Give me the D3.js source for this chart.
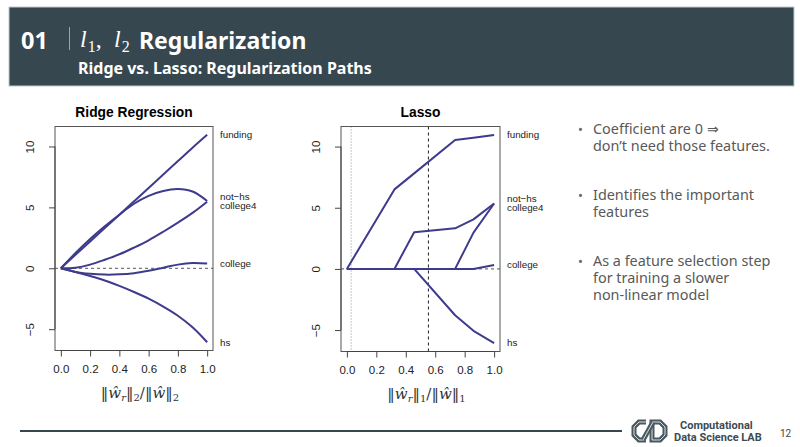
<!DOCTYPE html>
<html>
<head>
<meta charset="utf-8">
<script src="https://cdn.jsdelivr.net/npm/d3@7"></script>
<style>
  body { margin: 0; background: #fff; }
  svg { display: block; }
</style>
</head>
<body>
<div id="wrapper"></div>
<script>
// ridge paths on a common grid of ||w_r||2/||w||2
const ridgeX = [0, 0.1, 0.2, 0.3, 0.4, 0.5, 0.6, 0.7, 0.8, 0.9, 1.0]
const ridgeFunding  = [0, 1.1, 2.2, 3.3, 4.4, 5.5, 6.6, 7.7, 8.8, 9.9, 10.96]
const ridgeNotHs    = [0, 1.25, 2.4, 3.45, 4.4, 5.3, 5.95, 6.35, 6.5, 6.3, 5.52]
const ridgeCollege4 = [0, 0.05, 0.3, 0.7, 1.15, 1.7, 2.3, 3.0, 3.75, 4.55, 5.47]
const ridgeCollege  = [0, -0.3, -0.45, -0.52, -0.5, -0.4, -0.2, 0.05, 0.3, 0.43, 0.39]
const ridgeHs       = [0, -0.3, -0.63, -1.0, -1.45, -1.95, -2.5, -3.15, -3.9, -4.85, -6.07]

const lassoX = [0, 0.323, 0.457, 0.735, 0.86, 1.0]
const lassoFunding  = [0, 6.5, 7.81, 10.54, 10.73, 10.95]
const lassoNotHs    = [0, 0, 3.0, 3.32, 4.05, 5.35]
const lassoCollege4 = [0, 0, 0, 0, 2.97, 5.35]
const lassoCollege  = [0, 0, 0, 0, 0, 0.32]
const lassoHs       = [0, 0, 0, -3.79, -5.06, -6.06]
const lassoDotted = 0.029
const lassoDashed = 0.554

const featureNames = ["funding", "not\u2212hs", "college4", "college", "hs"]
const xTicks = [0, 0.2, 0.4, 0.6, 0.8, 1.0]
const yTicks = [-5, 0, 5, 10]
const yRange = [-6.07, 10.96]

const bullets = [
  ["Coefficient are 0 \u21D2", "don\u2019t need those features."],
  ["Identifies the important", "features"],
  ["As a feature selection step", "for training a slower", "non-linear model"],
]

const lineColor = "#3f3b8c"
const width = 800
const height = 447

const svg = d3.select("#wrapper")
  .append("svg")
  .attr("width", width)
  .attr("height", height)

// ---- header band
svg.append("rect")
  .attr("x", 9).attr("y", 7)
  .attr("width", 785).attr("height", 79)
  .attr("fill", "#36474f")
  .attr("stroke", "#c4c9cc")
  .attr("stroke-width", 1)

svg.append("text")
  .attr("x", 21).attr("y", 48.5)
  .attr("fill", "#fff")
  .style("font", "bold 23.5px 'Noto Sans', sans-serif")
  .text("01")

svg.append("line")
  .attr("x1", 69.5).attr("x2", 69.5)
  .attr("y1", 27).attr("y2", 50)
  .attr("stroke", "#9aa5aa")
  .attr("stroke-width", 1)

// l1, l2 in math italic
const lTitle = svg.append("text")
  .attr("y", 47)
  .attr("fill", "#fff")
  .style("font-family", "'Liberation Serif', 'DejaVu Serif', serif")
  .style("font-size", "24px")
lTitle.append("tspan").attr("x", 80).style("font-style", "italic").text("l")
lTitle.append("tspan").attr("dy", 5).attr("dx", 1).style("font-size", "16px").text("1")
lTitle.append("tspan").attr("dy", -5).text(",")
lTitle.append("tspan").attr("x", 114).style("font-style", "italic").text("l")
lTitle.append("tspan").attr("dy", 5).attr("dx", 1).style("font-size", "16px").text("2")

svg.append("text")
  .attr("x", 139).attr("y", 48.5)
  .attr("fill", "#fff")
  .style("font", "bold 23px 'Noto Sans', sans-serif")
  .text("Regularization")

svg.append("text")
  .attr("x", 78).attr("y", 74)
  .attr("fill", "#fff")
  .style("font", "bold 16px 'Noto Sans', sans-serif")
  .text("Ridge vs. Lasso: Regularization Paths")

// ---- one R style coefficient path panel
function drawPanel(cfg) {
  const pad = (yRange[1] - yRange[0]) * 0.04
  const x = d3.scaleLinear()
    .domain([-0.04, 1.04])
    .range([cfg.left, cfg.right])
  const y = d3.scaleLinear()
    .domain([yRange[0] - pad, yRange[1] + pad])
    .range([cfg.bottom, cfg.top])

  const g = svg.append("g")

  g.append("text")
    .attr("x", (cfg.left + cfg.right) / 2)
    .attr("y", cfg.top - 10)
    .attr("text-anchor", "middle")
    .style("font", "bold 13.8px 'Liberation Sans', Arial, sans-serif")
    .text(cfg.title)

  // zero reference line
  g.append("line")
    .attr("x1", cfg.left).attr("x2", cfg.right)
    .attr("y1", y(0)).attr("y2", y(0))
    .attr("stroke", "#777")
    .attr("stroke-width", 1.2)
    .attr("stroke-dasharray", "3,3")

  ;(cfg.vlines || []).forEach(v => {
    g.append("line")
      .attr("x1", x(v.at)).attr("x2", x(v.at))
      .attr("y1", cfg.top).attr("y2", cfg.bottom)
      .attr("stroke", v.color)
      .attr("stroke-width", 1.1)
      .attr("stroke-dasharray", v.dash)
  })

  const line = d3.line()
    .x(d => x(d[0]))
    .y(d => y(d[1]))
    .curve(cfg.curve)

  cfg.series.forEach(s => {
    g.append("path")
      .attr("d", line(cfg.xs.map((v, i) => [v, s[i]])))
      .attr("fill", "none")
      .attr("stroke", lineColor)
      .attr("stroke-width", 2)
      .attr("stroke-linejoin", "round")
  })

  g.append("rect")
    .attr("x", cfg.left).attr("y", cfg.top)
    .attr("width", cfg.right - cfg.left)
    .attr("height", cfg.bottom - cfg.top)
    .attr("fill", "none")
    .attr("stroke", "#555")
    .attr("stroke-width", 1)

  // x axis
  const xAxis = g.append("g")
    .attr("transform", `translate(0, ${cfg.bottom})`)
    .call(d3.axisBottom(x).tickValues(xTicks).tickFormat(d3.format(".1f"))
      .tickSize(6).tickPadding(8))
  xAxis.select(".domain")
    .attr("d", `M${x(0)},0H${x(1)}`)
  xAxis.selectAll("line, .domain").attr("stroke", "#444")
  xAxis.selectAll("text")
    .attr("fill", "#222")
    .style("font", "11.5px 'Liberation Sans', Arial, sans-serif")

  // y axis with rotated labels
  const yAxis = g.append("g")
    .attr("transform", `translate(${cfg.left}, 0)`)
    .call(d3.axisLeft(y).tickValues(yTicks).tickSize(6).tickFormat(d3.format("d")))
  yAxis.select(".domain")
    .attr("d", `M0,${y(yTicks[0])}V${y(yTicks[yTicks.length - 1])}`)
  yAxis.selectAll("line, .domain").attr("stroke", "#444")
  yAxis.selectAll("text")
    .attr("fill", "#222")
    .attr("x", null).attr("dy", null)
    .attr("text-anchor", "middle")
    .attr("transform", "translate(-21, 0) rotate(-90)")
    .style("font", "11.5px 'Liberation Sans', Arial, sans-serif")

  // variable names at the right edge
  const nudges = [0, 0.4, -0.35, 0, 0]
  cfg.series.forEach((s, i) => {
    g.append("text")
      .attr("x", cfg.right + 7)
      .attr("y", y(s[s.length - 1] + nudges[i]))
      .attr("dy", "0.35em")
      .attr("fill", "#222")
      .style("font", "9.8px 'Liberation Sans', Arial, sans-serif")
      .text(featureNames[i])
  })

  // axis title: ||w_r||_p / ||w||_p
  const t = g.append("text")
    .attr("x", (cfg.left + cfg.right) / 2 + 6)
    .attr("y", cfg.bottom + 47)
    .attr("text-anchor", "middle")
    .attr("fill", "#333")
    .style("font-family", "'DejaVu Serif', 'Liberation Serif', serif")
    .style("font-size", "15px")
  t.append("tspan").text("\u2016")
  t.append("tspan").style("font-style", "italic").text("\u0175")
  t.append("tspan").attr("dy", 3).style("font-style", "italic").style("font-size", "10px").text("r")
  t.append("tspan").attr("dy", -3).text("\u2016")
  t.append("tspan").attr("dy", 3).style("font-size", "10px").text(cfg.p)
  t.append("tspan").attr("dy", -3).text("/\u2016")
  t.append("tspan").style("font-style", "italic").text("\u0175")
  t.append("tspan").text("\u2016")
  t.append("tspan").attr("dy", 3).style("font-size", "10px").text(cfg.p)
}

drawPanel({
  title: "Ridge Regression",
  left: 55, right: 213, top: 126.5, bottom: 350.5,
  xs: ridgeX,
  series: [ridgeFunding, ridgeNotHs, ridgeCollege4, ridgeCollege, ridgeHs],
  curve: d3.curveCatmullRom,
  p: "2",
})

drawPanel({
  title: "Lasso",
  left: 341, right: 500, top: 126.5, bottom: 351.5,
  xs: lassoX,
  series: [lassoFunding, lassoNotHs, lassoCollege4, lassoCollege, lassoHs],
  curve: d3.curveLinear,
  p: "1",
  vlines: [
    {at: lassoDotted, color: "#999", dash: "1,2"},
    {at: lassoDashed, color: "#333", dash: "3,3"},
  ],
})

// ---- bullet points
const bulletTop = [133.5, 199.5, 265.5]
bullets.forEach((lines, i) => {
  svg.append("text")
    .attr("x", 578).attr("y", bulletTop[i])
    .attr("fill", "#666")
    .style("font", "13px 'Noto Sans', sans-serif")
    .text("\u2022")
  lines.forEach((txt, j) => {
    svg.append("text")
      .attr("x", 593).attr("y", bulletTop[i] + j * 17)
      .attr("fill", "#595959")
      .style("font", "14.4px 'Noto Sans', sans-serif")
      .text(txt)
  })
})

// ---- footer
svg.append("line")
  .attr("x1", 20).attr("x2", 622)
  .attr("y1", 431).attr("y2", 431)
  .attr("stroke", "#37474f")
  .attr("stroke-width", 2)

const logo = svg.append("g")
  .attr("transform", "translate(632, 420)")
const cPath = "M14,2 H7 L2,7 V15 L7,20 H14"
const dPath = "M20,2 H28 L33,7 V15 L28,20 H20 Z"
const slash = "M11,20 L21,2"
;[cPath, dPath, slash].forEach(p => {
  logo.append("path").attr("d", p)
    .attr("fill", "none").attr("stroke", "#4a5960")
    .attr("stroke-width", 5).attr("stroke-linejoin", "miter")
  logo.append("path").attr("d", p)
    .attr("fill", "none").attr("stroke", "#fff")
    .attr("stroke-width", 0.8)
})

svg.append("text")
  .attr("x", 680).attr("y", 429)
  .attr("fill", "#3e4b52")
  .style("font", "bold 11px 'Roboto', sans-serif")
  .text("Computational")
svg.append("text")
  .attr("x", 674).attr("y", 441)
  .attr("fill", "#3e4b52")
  .style("font", "bold 11px 'Roboto', sans-serif")
  .text("Data Science LAB")
svg.append("text")
  .attr("x", 780).attr("y", 437)
  .attr("fill", "#444")
  .style("font", "10px 'Roboto', sans-serif")
  .text("12")
</script>
</body>
</html>
